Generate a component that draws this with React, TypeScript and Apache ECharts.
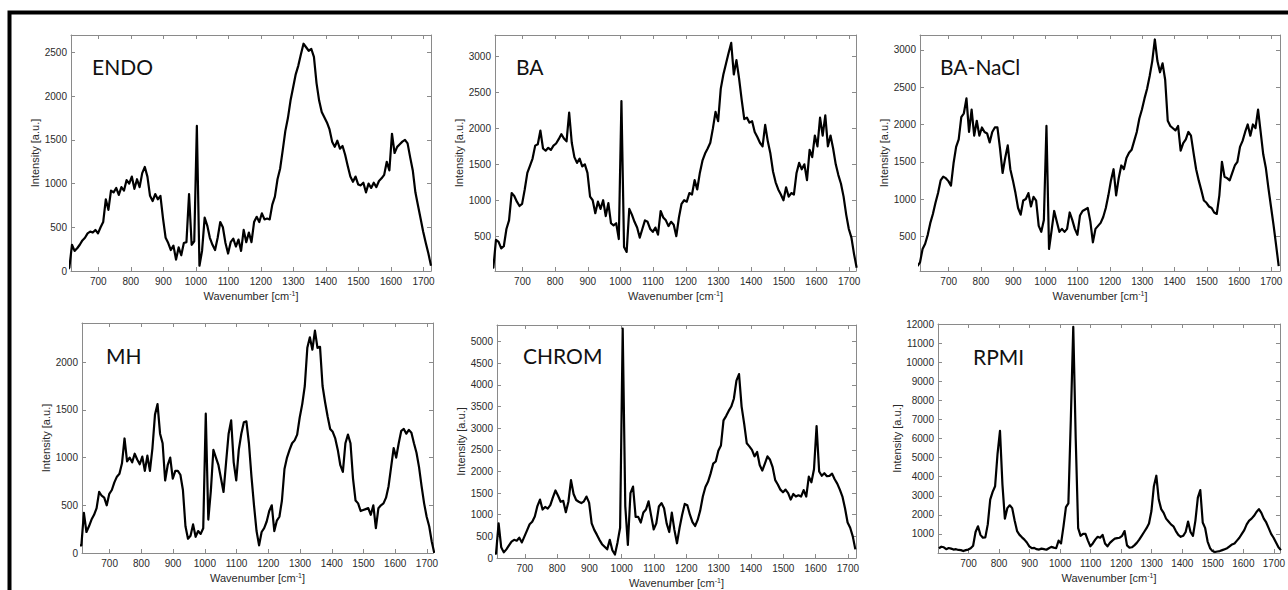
import React, { useEffect, useRef } from "react";
import * as echarts from "echarts";

// Wavenumber sampling grid [cm^-1]
const wavenumbers: number[] = [
  603, 611, 619, 627, 635, 643, 651, 659, 667, 675,
  683, 691, 699, 707, 715, 723, 731, 739, 747, 755,
  763, 771, 779, 787, 795, 803, 811, 819, 827, 835,
  843, 851, 859, 867, 875, 883, 891, 899, 907, 915,
  923, 931, 939, 947, 955, 963, 971, 979, 987, 995,
  1003, 1011, 1019, 1027, 1035, 1043, 1051, 1059, 1067, 1075,
  1083, 1091, 1099, 1107, 1115, 1123, 1131, 1139, 1147, 1155,
  1163, 1171, 1179, 1187, 1195, 1203, 1211, 1219, 1227, 1235,
  1243, 1251, 1259, 1267, 1275, 1283, 1291, 1299, 1307, 1315,
  1323, 1331, 1339, 1347, 1355, 1363, 1371, 1379, 1387, 1395,
  1403, 1411, 1419, 1427, 1435, 1443, 1451, 1459, 1467, 1475,
  1483, 1491, 1499, 1507, 1515, 1523, 1531, 1539, 1547, 1555,
  1563, 1571, 1579, 1587, 1595, 1603, 1611, 1619, 1627, 1635,
  1643, 1651, 1659, 1667, 1675, 1683, 1691, 1699, 1707, 1715,
  1723,
];

const endoIntensity: number[] = [
  0, 40, 300, 230, 260, 300, 350, 380, 430, 450,
  440, 470, 430, 500, 560, 820, 700, 920, 900, 950,
  870, 960, 920, 1040, 1000, 1080, 940, 1050, 960, 1120,
  1190, 1080, 860, 800, 880, 820, 860, 600, 380, 320,
  240, 290, 130, 270, 180, 320, 330, 880, 300, 340,
  1660, 60, 230, 610, 520, 380, 300, 240, 380, 560,
  500, 320, 200, 330, 370, 280, 360, 230, 470, 330,
  440, 330, 560, 620, 560, 660, 590, 600, 590, 760,
  850, 1050, 1170, 1380, 1600, 1750, 1950, 2100, 2250, 2350,
  2480, 2600, 2560, 2520, 2540, 2450, 2150, 1950, 1820, 1760,
  1700, 1620, 1480, 1420, 1490, 1400, 1430, 1330, 1200, 1080,
  1020, 1080, 990, 980, 1010, 900, 1000, 950, 1010, 960,
  1030, 1060, 1100, 1250, 1150, 1570, 1350, 1420, 1450, 1480,
  1500, 1460, 1300, 1150, 900, 750, 600, 450, 320, 200,
  60,
];

const baIntensity: number[] = [
  60, 60, 450, 420, 330, 360, 600, 720, 1100, 1060,
  980, 920, 950, 1150, 1380, 1480, 1580, 1760, 1780, 1970,
  1720, 1690, 1730, 1700, 1760, 1790, 1850, 1920, 1860, 1820,
  2220, 1800, 1600, 1520, 1580, 1470, 1500, 1380, 1050, 1000,
  820, 980, 880, 1000, 780, 960, 680, 650, 680, 460,
  2380, 350, 280, 880, 800, 700, 620, 480, 600, 720,
  700, 600, 560, 620, 520, 850, 760, 720, 640, 700,
  660, 500, 760, 950, 1000, 980, 1100, 1080, 1280, 1150,
  1380, 1550, 1650, 1720, 1800, 2000, 2230, 2100, 2550, 2750,
  2900, 3050, 3190, 2750, 2950, 2700, 2400, 2130, 2150, 2080,
  2100, 1950, 1880, 1800, 1750, 2050, 1820, 1650, 1400, 1250,
  1150, 1080, 1000, 1180, 1050, 1100, 1080, 1380, 1520, 1430,
  1500, 1280, 1700, 1600, 1900, 1750, 2150, 1900, 2180, 1750,
  1900, 1720, 1500, 1350, 1230, 1050, 800, 600, 480, 250,
  60,
];

const baNaclIntensity: number[] = [
  100, 150, 330, 400, 520, 680, 800, 950, 1080, 1250,
  1300, 1280, 1240, 1180, 1480, 1700, 1800, 2100, 2150, 2350,
  1900, 2200, 1850, 2050, 1850, 1960, 1900, 1880, 1760, 1900,
  1960, 1960, 1680, 1350, 1550, 1720, 1400, 1250, 1080, 880,
  790, 980, 1000, 1080, 900, 1030, 980, 640, 560, 720,
  1980, 330, 580, 840, 700, 560, 600, 560, 600, 820,
  720, 600, 520, 780, 840, 860, 880, 700, 420, 600,
  640, 680, 760, 880, 1050, 1250, 1400, 1050, 1280, 1450,
  1400, 1550, 1620, 1660, 1780, 1900, 2080, 2200, 2350, 2480,
  2650, 2850, 3140, 2850, 2700, 2820, 2600, 2050, 1980, 1950,
  1920, 1980, 1650, 1750, 1800, 1900, 1850, 1620, 1400, 1250,
  1120, 980, 950, 900, 880, 820, 800, 1050, 1500, 1300,
  1280, 1250, 1350, 1450, 1500, 1700, 1780, 1900, 2000, 1850,
  2000, 1950, 2200, 1900, 1600, 1420, 1150, 900, 650, 380,
  100,
];

const mhIntensity: number[] = [
  80, 80, 420, 220, 280, 350, 400, 470, 640, 600,
  580, 500, 620, 660, 740, 800, 830, 940, 1200, 960,
  1000, 950, 1040, 980, 930, 1010, 860, 1020, 860, 1100,
  1450, 1560, 1250, 1150, 760, 920, 1000, 780, 860, 860,
  820, 660, 280, 150, 180, 300, 170, 230, 200, 260,
  1460, 350, 650, 1080, 1000, 920, 780, 640, 950, 1250,
  1390, 950, 760, 1080, 1250, 1370, 1380, 1150, 800, 500,
  230, 80, 220, 260, 330, 440, 500, 230, 340, 380,
  550, 880, 1000, 1080, 1150, 1180, 1240, 1420, 1560, 1750,
  2150, 2260, 2130, 2330, 2150, 2160, 1750, 1580, 1430, 1300,
  1270, 1200, 1080, 920, 850, 1150, 1240, 1150, 780, 550,
  520, 440, 450, 460, 470, 400, 500, 260, 470, 500,
  520, 580, 700, 900, 1100, 1000, 1150, 1280, 1300, 1250,
  1290, 1260, 1150, 1050, 900, 700, 520, 380, 280, 120,
  0,
];

const chromIntensity: number[] = [
  100, 100, 800, 250, 130, 200, 290, 380, 420, 400,
  470, 360, 500, 640, 780, 840, 960, 1200, 1350, 1120,
  1180, 1140, 1220, 1400, 1560, 1440, 1300, 1320, 1060, 1300,
  1800, 1480, 1340, 1300, 1270, 1310, 1420, 1280, 800, 650,
  540, 420, 320, 260, 200, 420, 180, 80, 360, 700,
  5300, 1200, 300, 1500, 1650, 950, 950, 820, 1050, 1120,
  1310, 980, 660, 800, 1190, 1270, 1150, 800, 600, 1050,
  650, 340, 700, 1000, 1250, 1220, 1000, 830, 740, 880,
  1100, 1420, 1640, 1760, 1950, 2180, 2230, 2480, 2600, 3180,
  3280, 3400, 3500, 3680, 4100, 4250, 3500, 3100, 2650, 2580,
  2500, 2350, 2450, 2150, 2020, 2180, 2350, 2270, 2100, 1800,
  1700, 1580, 1520, 1580, 1500, 1350, 1480, 1420, 1450, 1420,
  1570, 1420, 1880, 1750, 2050, 3050, 2000, 1900, 1960, 1890,
  1900, 1950, 1820, 1720, 1580, 1420, 1150, 820, 700, 500,
  200,
];

const rpmiIntensity: number[] = [
  250, 330, 300, 200, 260, 230, 180, 200, 160, 150,
  100, 150, 180, 250, 380, 1100, 1400, 950, 800, 820,
  1500, 2800, 3200, 3500, 5200, 6400, 3600, 1800, 2350, 2500,
  2350, 1700, 1150, 950, 820, 700, 550, 350, 250, 270,
  200, 180, 230, 200, 170, 250, 320, 280, 250, 650,
  500, 1400, 2400, 2600, 7000, 11850, 6000, 1300, 900, 1000,
  1000, 650, 350, 500, 700, 850, 800, 950, 500, 350,
  530, 650, 750, 780, 800, 900, 1150, 400, 280, 300,
  400, 530, 700, 900, 1100, 1300, 1550, 2200, 3500, 4050,
  2800, 2300, 2100, 1800, 1650, 1500, 1400, 1150, 950, 850,
  900, 1100, 1650, 1100, 900, 1700, 2900, 3300, 1600, 1300,
  600, 250, 100, 50, 80, 100, 150, 200, 250, 350,
  450, 500, 650, 800, 1000, 1200, 1500, 1700, 1800, 1950,
  2150, 2300, 2100, 1800, 1600, 1300, 1000, 800, 550, 300,
  150,
];

const panelNames: string[] = ["ENDO", "BA", "BA-NaCl", "MH", "CHROM", "RPMI"];

const xTicks: number[] = [700, 800, 900, 1000, 1100, 1200, 1300, 1400, 1500, 1600, 1700];
const endoTicks: number[] = [0, 500, 1000, 1500, 2000, 2500];
const baTicks: number[] = [500, 1000, 1500, 2000, 2500, 3000];
const baNaclTicks: number[] = [500, 1000, 1500, 2000, 2500, 3000];
const mhTicks: number[] = [0, 500, 1000, 1500, 2000];
const chromTicks: number[] = [0, 500, 1000, 1500, 2000, 2500, 3000, 3500, 4000, 4500, 5000];
const rpmiTicks: number[] = [1000, 2000, 3000, 4000, 5000, 6000, 7000, 8000, 9000, 10000, 11000, 12000];

const xAxisTitle = "Wavenumber [cm{sup|-1}]";
const yAxisTitle = "Intensity [a.u.]";

// layout (positions / ranges) kept separate from data
const layout = [
  { values: endoIntensity, yTicks: endoTicks, yMin: 0, yMax: 2700, xMin: 616, xMax: 1723, left: 71, top: 35, width: 360, height: 236, lx: 92, ly: 66 },
  { values: baIntensity, yTicks: baTicks, yMin: 15, yMax: 3300, xMin: 616, xMax: 1721, left: 495, top: 35, width: 361, height: 236, lx: 516, ly: 66 },
  { values: baNaclIntensity, yTicks: baNaclTicks, yMin: 35, yMax: 3200, xMin: 611, xMax: 1727, left: 920, top: 35, width: 360, height: 236, lx: 940, ly: 66.5 },
  { values: mhIntensity, yTicks: mhTicks, yMin: 0, yMax: 2410, xMin: 613, xMax: 1719, left: 82, top: 323, width: 351, height: 230, lx: 106, ly: 355.5 },
  { values: chromIntensity, yTicks: chromTicks, yMin: 0, yMax: 5385, xMin: 614, xMax: 1725, left: 497, top: 325, width: 359, height: 233, lx: 523, ly: 355 },
  { values: rpmiIntensity, yTicks: rpmiTicks, yMin: 0, yMax: 12000, xMin: 600, xMax: 1720, left: 938, top: 324, width: 352, height: 229, lx: 973, ly: 356 },
];

const AX_FONT = "'Liberation Sans', Arial, Helvetica, sans-serif";
const BOX = "#8a8a8a";
const TXT = "#2a2a2a";
const plain = (v: number) => String(v);

function buildOption(): any {
  const grids: any[] = [];
  const xAxes: any[] = [];
  const yAxes: any[] = [];
  const series: any[] = [];
  const graphics: any[] = [];

  layout.forEach((p, i) => {
    grids.push({ left: p.left, top: p.top, width: p.width, height: p.height, containLabel: false });
    const lineStyle = { color: BOX, width: 1 };
    xAxes.push({
      gridIndex: i, type: "value", position: "bottom", min: p.xMin, max: p.xMax,
      axisLine: { show: true, onZero: false, lineStyle },
      axisTick: { show: true, inside: true, length: 4, customValues: xTicks, lineStyle },
      axisLabel: { show: true, customValues: xTicks, formatter: plain, color: TXT, fontSize: 10, fontFamily: AX_FONT, margin: 5 },
      splitLine: { show: false },
      name: xAxisTitle, nameLocation: "middle", nameGap: 19,
      nameTextStyle: {
        color: TXT, fontSize: 11, fontFamily: AX_FONT,
        rich: { sup: { fontSize: 7, verticalAlign: "top", color: TXT, fontFamily: AX_FONT, lineHeight: 8 } },
      },
    });
    xAxes.push({
      gridIndex: i, type: "value", position: "top", min: p.xMin, max: p.xMax,
      axisLine: { show: true, onZero: false, lineStyle },
      axisTick: { show: true, inside: true, length: 4, customValues: xTicks, lineStyle },
      axisLabel: { show: false },
      splitLine: { show: false },
    });
    yAxes.push({
      gridIndex: i, type: "value", position: "left", min: p.yMin, max: p.yMax,
      axisLine: { show: true, onZero: false, lineStyle },
      axisTick: { show: true, inside: true, length: 4, customValues: p.yTicks, lineStyle },
      axisLabel: { show: true, customValues: p.yTicks, formatter: plain, color: TXT, fontSize: 10, fontFamily: AX_FONT, margin: 4 },
      splitLine: { show: false },
      name: yAxisTitle, nameLocation: "middle", nameGap: i === 5 ? 36 : 30, nameRotate: 90,
      nameTextStyle: { color: TXT, fontSize: 11, fontFamily: AX_FONT },
    });
    yAxes.push({
      gridIndex: i, type: "value", position: "right", min: p.yMin, max: p.yMax,
      axisLine: { show: true, onZero: false, lineStyle },
      axisTick: { show: true, inside: true, length: 4, customValues: p.yTicks, lineStyle },
      axisLabel: { show: false },
      splitLine: { show: false },
    });
    series.push({
      type: "line",
      name: panelNames[i],
      xAxisIndex: 2 * i,
      yAxisIndex: 2 * i,
      data: wavenumbers.map((w, k) => [w, p.values[k]]),
      showSymbol: false,
      symbol: "none",
      clip: true,
      silent: true,
      color: "#000",
      lineStyle: { color: "#000", width: 2.2, join: "round" },
    });
    graphics.push({
      type: "text",
      x: p.lx,
      y: p.ly,
      silent: true,
      style: {
        text: panelNames[i],
        fill: "#111",
        font: "21px Lato, 'Open Sans', sans-serif",
        textAlign: "left",
        textVerticalAlign: "middle",
      },
    });
  });

  graphics.unshift({
    type: "rect",
    silent: true,
    shape: { x: 9.5, y: 12.5, width: 1400, height: 700 },
    style: { fill: "none", stroke: "#000", lineWidth: 4 },
  });

  return {
    animation: false,
    backgroundColor: "#fff",
    grid: grids,
    xAxis: xAxes,
    yAxis: yAxes,
    series,
    graphic: graphics,
  };
}

export default function App() {
  const ref = useRef<HTMLDivElement>(null);
  useEffect(() => {
    if (!ref.current) return;
    const chart = echarts.init(ref.current, null, { renderer: "svg" });
    chart.setOption(buildOption());
    return () => chart.dispose();
  }, []);
  return (
    <div
      ref={ref}
      style={{ position: "fixed", left: 0, top: 0, width: 1288, height: 590, background: "#fff" }}
    />
  );
}
